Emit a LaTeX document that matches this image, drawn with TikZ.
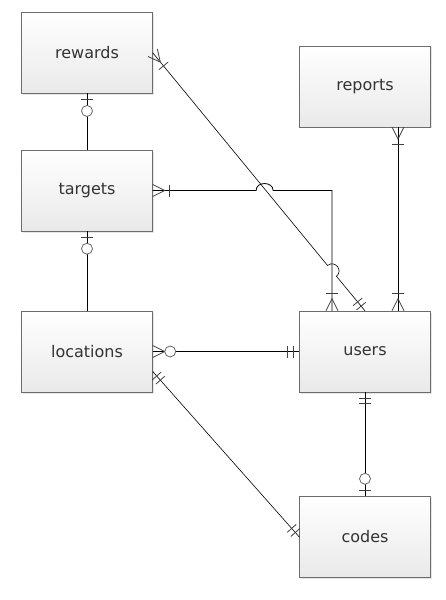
\documentclass[tikz,border=0pt]{standalone}
\usepackage{fontspec}
\setmainfont{DejaVu Sans}
\usetikzlibrary{decorations.markings,shadows}
\tikzset{
  entity/.style={draw=gray!85!black, top color=white, bottom color=gray!17, minimum width=131pt, minimum height=81pt, drop shadow={shadow xshift=1.5pt,shadow yshift=-1.5pt,opacity=0.2}, font=\fontsize{16}{19}\selectfont, text=black!80},
  rel/.style={line width=0.8pt},
  diag/.style={line width=0.6pt},
  mk/.style={line width=0.8pt, draw=black!75},
  zeroone/.pic={\draw[mk] (6pt,6pt) -- (6pt,-6pt); \draw[mk, draw=black!60, fill=white] (17.5pt,0) circle (5.5pt);},
  zeromany/.pic={\draw[mk] (0,6pt) -- (12pt,0) -- (0,-6pt); \draw[mk, draw=black!60, fill=white] (17.5pt,0) circle (5.5pt);},
  onemany/.pic={\draw[mk] (0,6pt) -- (12pt,0) -- (0,-6pt); \draw[mk] (17pt,6pt) -- (17pt,-6pt);},
  onlyone/.pic={\draw[mk] (6pt,6pt) -- (6pt,-6pt); \draw[mk] (11.5pt,6pt) -- (11.5pt,-6pt);},
  src/.style={postaction={decorate,decoration={markings,mark=at position 0.01pt with {\pic[transform shape]{#1};}}}},
  dst/.style={postaction={decorate,decoration={markings,mark=at position -0.01pt with {\pic[transform shape,xscale=-1]{#1};}}}},
}
\begin{document}
\begin{tikzpicture}[x=1pt,y=-1pt]
\useasboundingbox (0,0) rectangle (445,600);
\node[entity] (rewards) at (87,52.75) {rewards};
\node[entity] (reports) at (365,86.25) {reports};
\node[entity] (targets) at (87,190.5) {targets};
\node[entity] (locations) at (87,351.5) {locations};
\node[entity] (users) at (365,351.5) {users};
\node[entity] (codes) at (365,537) {codes};
\coordinate (hop1) at (256.1,190.5);
\coordinate (hop1a) at (256.1,181.2);
\coordinate (hop1b) at (273.1,181.2);
\coordinate (hop1c) at (273.1,190.5);
\coordinate (bend) at (332,190.5);
\coordinate (hop2) at (327.55,265.5);
\coordinate (hop2a) at (334.76,259.6);
\coordinate (hop2b) at (343.66,270.4);
\coordinate (hop2c) at (336.45,276.3);
\draw[rel,src=zeroone] (rewards) -- (targets);
\draw[rel,src=zeroone] (targets) -- (locations);
\draw[rel,src=onemany,dst=onemany] (targets.east) -- (hop1) .. controls (hop1a) and (hop1b) .. (hop1c) -- (bend) -- (bend |- users.north);
\draw[diag,src=onemany,dst=onlyone] (rewards.east) -- (hop2) .. controls (hop2a) and (hop2b) .. (hop2c) -- (users.north);
\draw[rel,src=onemany,dst=onemany] ([xshift=33pt]reports.south) -- ([xshift=33pt]users.north);
\draw[rel,src=zeromany,dst=onlyone] (locations) -- (users);
\draw[rel,src=onlyone,dst=zeroone] (users) -- (codes);
\draw[diag,src=onlyone,dst=onlyone] ([yshift=-20pt]locations.east) -- (codes.west);
\end{tikzpicture}
\end{document}
